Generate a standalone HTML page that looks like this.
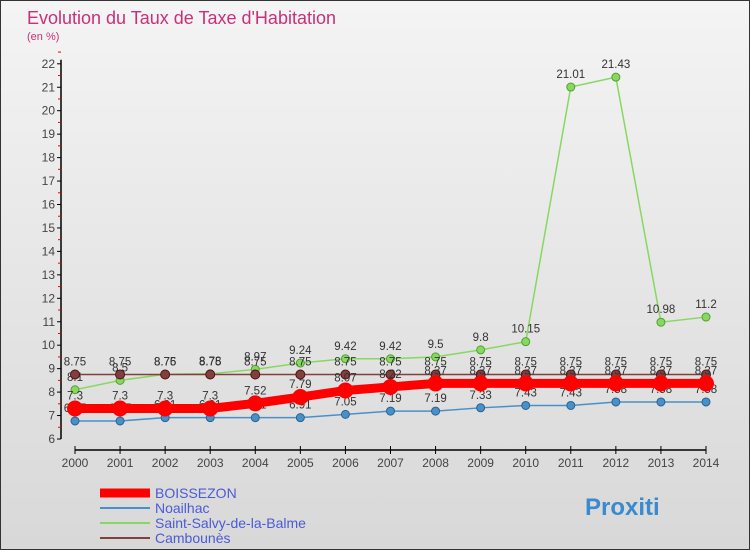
<!DOCTYPE html>
<html><head><meta charset="utf-8"><style>
body{margin:0;width:750px;height:550px;overflow:hidden;font-family:"Liberation Sans",sans-serif}
#c{position:absolute;left:0;top:0;width:748px;height:548px;border:1px solid #333;background:linear-gradient(#f4f4f4,#d8d8d8)}
</style></head><body>
<div id="c">
<svg id="s" width="750" height="550" style="position:absolute;left:-1px;top:-1px">
<text x="27" y="24" font-size="18" fill="#c8307a">Evolution du Taux de Taxe d'Habitation</text>
<text x="27" y="40" font-size="11" fill="#c8307a">(en %)</text>
</svg></div>
<script>
const years=[2000,2001,2002,2003,2004,2005,2006,2007,2008,2009,2010,2011,2012,2013,2014];
const boissezon=[7.3,7.3,7.3,7.3,7.52,7.79,8.07,8.22,8.37,8.37,8.37,8.37,8.37,8.37,8.37];
const noailhac=[6.77,6.77,6.91,6.91,6.91,6.91,7.05,7.19,7.19,7.33,7.43,7.43,7.58,7.58,7.58];
const salvy=[8.1,8.5,8.76,8.78,8.97,9.24,9.42,9.42,9.5,9.8,10.15,21.01,21.43,10.98,11.2];
const cambounes=[8.75,8.75,8.75,8.75,8.75,8.75,8.75,8.75,8.75,8.75,8.75,8.75,8.75,8.75,8.75];
const yTicks=[6,7,8,9,10,11,12,13,14,15,16,17,18,19,20,21,22];
const NS='http://www.w3.org/2000/svg',s=document.getElementById('s');
const X=i=>75+i*(706-75)/14, Y=v=>439-(v-6)*23.45;
function el(t,a,p){const e=document.createElementNS(NS,t);for(const k in a)e.setAttribute(k,a[k]);(p||s).appendChild(e);return e;}
let ax=el('line',{x1:61,y1:Y(22)-4,x2:61,y2:Y(6),stroke:'#000','stroke-width':1.5});

yTicks.forEach(v=>{el('line',{x1:57,x2:61,y1:Y(v),y2:Y(v),stroke:'#000'});
 el('line',{x1:58,x2:61,y1:Y(v+0.5),y2:Y(v+0.5),stroke:'#e00'});
 const t=el('text',{x:55,y:Y(v)+4,'font-size':12,'text-anchor':'end',fill:'#444'});t.textContent=v;
 });
let xa=el('line',{x1:75,y1:450,x2:706,y2:450,stroke:'#000','stroke-width':1.5});

years.forEach((y,i)=>{el('line',{x1:X(i),x2:X(i),y1:446,y2:454,stroke:'#000'});
 const t=el('text',{x:X(i),y:467,'font-size':12,'text-anchor':'middle',fill:'#444'});t.textContent=y;
 });
function series(d,name,color,w,r,dark){
 const g=el('g',{});
 el('polyline',{points:d.map((v,i)=>X(i)+','+Y(v)).join(' '),fill:'none',stroke:color,'stroke-width':w},g);
 d.forEach((v,i)=>{const c=el('circle',{cx:X(i),cy:Y(v),r:r,fill:color,stroke:dark,'stroke-width':1},g);
  
  const t=el('text',{x:X(i),y:Y(v)-9,'font-size':11.5,'text-anchor':'middle',fill:'#333'},g);t.textContent=v;});
}
series(noailhac,'noailhac','#4a90c8',1.5,4,'#2a6090');
series(salvy,'saint-salvy','#88d860',1.5,4,'#50a030');
series(cambounes,'cambounes','#804040',1.5,4.5,'#501010');
series(boissezon,'boissezon','#ff0000',9,7.5,'#ff0000');
const leg=[['BOISSEZON','#ff0000',9],['Noailhac','#4a90c8',2],['Saint-Salvy-de-la-Balme','#88d860',2],['Cambounès','#804040',2]];
leg.forEach((l,i)=>{const y=493+i*15;const g=el('g',{});
 el('line',{x1:100,x2:150,y1:y,y2:y,stroke:l[1],'stroke-width':l[2]},g);
 const t=el('text',{x:155,y:y+5,'font-size':14,fill:'#4a5ad8'},g);t.textContent=l[0];});
const lg=el('text',{x:585,y:515,'font-size':24,'font-weight':'bold',fill:'#3a8ad0'});lg.textContent='Proxiti';

</script></body></html>
